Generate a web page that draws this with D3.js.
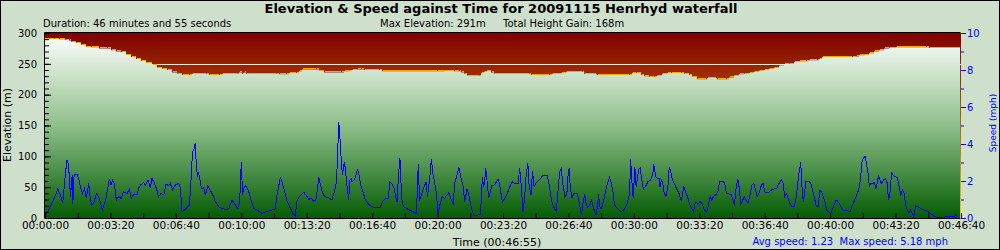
<!DOCTYPE html>
<html>
<head>
<meta charset="utf-8">
<script src="https://d3js.org/d3.v7.min.js"></script>
<style>
  body { margin: 0; background: #fff; }
  svg { display: block; font-family: "DejaVu Sans", Verdana, sans-serif; }
  .frame { fill: #cee0cc; stroke: #000; stroke-width: 1; }
  .speed { fill: none; stroke: #0000ff; stroke-width: 1; shape-rendering: crispEdges; }
  .edge { stroke: #ffa500; stroke-width: 1; shape-rendering: crispEdges; }
  .blue { fill: #0000ff; }
  .pre { white-space: pre; }
</style>
</head>
<body>
<svg id="chart" width="1000" height="250"></svg>
<script>
  // elevation profile (seconds, metres)
  var elevTimes = [0,15,31,46,64,76,83,98,113,128,
    144,168,193,205,220,235,251,266,281,296,
    312,330,345,361,376,391,407,422,443,452,
    495,504,535,544,590,596,605,611,617,709,
    718,740,749,770,779,789,831,841,856,908,
    917,932,941,956,969,978,1024,1033,1201,1223,
    1253,1269,1275,1284,1293,1330,1336,1345,1354,1366,
    1376,1483,1489,1544,1553,1580,1596,1645,1651,1687,
    1690,1788,1797,1810,1825,1834,1849,1865,1874,1889,
    1904,1917,1947,1956,1972,1981,1996,2024,2027,2054,
    2057,2085,2094,2109,2124,2140,2155,2170,2186,2201,
    2216,2232,2247,2262,2277,2293,2308,2329,2338,2363,
    2369,2378,2470,2482,2491,2507,2522,2537,2552,2568,
    2583,2604,2696,2705,2800];
  var elevValues = [290,291,291,290,289,288,286,284,281,278,
    277,275,275,272,270,269,265,261,258,255,
    252,248,244,242,240,236,234,232,232,234,
    234,232,232,234,234,236,234,236,234,234,
    233,233,235,235,238,241,241,239,236,236,
    238,239,240,241,241,240,240,238,238,239,
    238,238,236,234,231,231,235,237,239,236,
    234,234,232,232,234,235,237,237,234,233,
    232,232,235,235,232,230,229,229,231,234,
    235,235,235,234,232,229,225,225,227,227,
    225,225,228,231,233,234,235,237,239,240,
    242,244,247,249,250,253,254,254,256,256,
    258,261,261,262,264,265,267,270,272,275,
    276,277,277,276,276];

  // speed samples (seconds, mph)
  var speedTimes = [0,11,21,32,39,47,54,60,67,72,
    78,83,85,89,98,103,108,115,121,126,
    134,137,142,149,157,164,169,175,184,192,
    197,202,207,212,218,225,233,240,251,258,
    264,271,281,288,294,302,307,315,322,327,
    335,342,347,355,363,370,378,383,390,398,
    409,414,419,427,434,441,445,451,455,459,
    462,466,469,472,478,485,490,498,505,513,
    521,531,541,551,561,572,582,589,595,600,
    604,607,614,623,631,638,648,658,663,674,
    684,694,704,709,715,720,724,733,740,750,
    758,765,770,777,786,791,798,806,814,821,
    828,833,837,842,847,855,867,877,886,891,
    894,898,901,905,909,912,915,918,922,925,
    928,932,936,
    938,945,951,955,960,965,972,979,987,998,
    1013,1025,1033,1040,1049,1054,1061,1067,1072,1076,
    1081,1085,1089,1092,1097,1110,1125,1135,1138,1141,
    1145,1150,1155,1161,1165,1169,1173,1177,1181,1185,
    1189,1193,1197,1201,1207,1214,1222,1228,1235,1240,
    1244,1248,1252,1258,1265,1271,1278,1283,1290,1295,
    1301,1305,1311,1322,1331,1334,1337,1341,1344,1347,
    1351,1356,1362,1366,1373,1380,1385,1390,1398,1405,
    1413,1421,1428,1436,1446,1451,1456,1461,1466,1471,
    1476,1480,1486,1490,1495,1500,1507,1517,1522,1536,
    1543,1548,1556,1563,1568,1573,1578,1582,1589,1595,
    1599,1602,1606,1611,1617,1627,1633,1640,1645,1650,
    1654,1658,1665,1670,1675,1680,1684,1688,1692,1697,
    1701,1707,1714,1721,1726,1731,1736,1741,1752,1760,
    1770,1778,1785,1788,1790,1794,1798,1803,1807,1811,
    1815,1819,1823,1829,1835,1843,1851,1858,1861,
    1867,1872,1877,1880,1884,1888,1892,1898,1904,1908,
    1913,1918,1923,1930,1938,1945,1949,1953,1958,1964,
    1970,1976,1982,1986,1990,1996,2002,2006,2012,2016,
    2023,2028,2033,2038,2043,2050,2057,2062,2073,2078,
    2083,2091,2098,2103,2107,2113,2118,2121,2127,2132,
    2137,2143,2149,2155,2161,2167,2172,2177,2184,2190,
    2195,2201,2213,2220,2230,2237,2241,2247,2251,2256,
    2261,2266,2271,2277,2283,2290,2295,2300,2303,2307,
    2310,2314,2318,2322,2326,2335,2341,2346,2351,2357,
    2363,2369,2374,2379,2384,2389,2395,2402,2410,2418,
    2422,2428,2436,2444,2453,2461,2468,2475,2481,2487,
    2493,2498,2504,2507,2511,2516,2520,2524,2530,2535,
    2540,2544,2548,2552,2557,2563,2569,2575,2578,2582,
    2585,2588,2593,2600,2605,2610,2616,2621,2626,2631,
    2636,2641,2646,2651,2655,2662,2669,2677,2687,2695,
    2702,2710,2718,2726,2733,2744,2758,2774,2781,2784,
    2787];
  var speedValues = [0.05,0.43,0.79,1.24,1.57,1.24,0.79,1.96,3.14,2.86,
    1.15,2.32,0.74,2.32,2.36,2.14,1.69,1.33,1.60,1.06,
    1.87,1.24,0.70,0.79,1.33,1.15,0.88,0.43,0.88,1.60,
    2.11,1.78,2.05,1.87,0.97,1.15,1.06,1.42,1.33,1.57,
    1.06,1.28,1.24,1.69,1.82,1.91,1.78,2.05,1.64,2.14,
    1.87,1.51,1.15,1.33,1.24,1.82,1.75,1.87,1.51,1.78,
    1.87,1.60,0.34,0.43,0.56,0.70,1.60,3.59,3.68,4.04,
    3.05,2.23,2.50,2.23,1.60,1.64,1.24,1.75,1.51,1.24,
    0.88,0.61,0.52,0.47,0.49,0.97,0.70,0.52,0.85,3.01,
    1.24,1.60,1.75,1.42,0.88,0.52,0.43,0.31,0.25,0.34,
    0.38,0.43,0.49,1.24,1.78,2.23,1.96,1.42,0.92,0.52,
    0.25,0.11,0.92,1.15,1.32,1.39,1.24,1.01,1.06,0.92,
    0.97,1.60,2.23,1.78,1.42,1.15,1.10,0.97,1.51,1.96,
    3.23,5.18,4.49,3.32,2.32,2.68,3.01,2.68,1.87,1.51,
    0.97,2.05,2.11,
    1.96,2.05,2.32,2.65,2.32,1.78,1.42,0.97,0.79,0.61,
    0.56,0.58,0.92,1.03,1.06,1.96,1.82,1.60,1.15,0.85,
    2.41,3.23,1.60,0.79,0.61,0.47,0.34,0.25,1.42,2.90,
    0.92,1.24,1.51,1.78,1.96,1.15,1.69,2.32,3.19,2.50,
    2.14,1.69,1.28,0.20,0.70,1.15,1.06,1.24,1.37,1.06,
    0.92,0.70,1.87,2.23,2.74,2.23,1.69,0.88,1.57,1.28,
    0.74,0.43,0.16,0.16,0.20,1.15,2.23,1.69,1.96,2.68,
    2.05,1.10,1.42,1.78,1.78,1.96,2.11,1.78,0.85,1.06,
    1.33,1.69,1.96,1.87,1.87,2.68,1.69,0.34,1.06,2.41,
    2.95,1.69,1.24,2.54,1.69,1.87,2.00,2.18,2.31,2.29,
    1.60,0.97,0.56,0.34,1.42,2.50,2.68,1.96,1.15,1.24,
    2.32,2.68,1.60,1.10,1.33,1.33,0.79,0.16,0.85,1.30,
    0.79,0.56,0.70,0.97,0.67,0.34,0.16,0.52,1.28,0.52,
    0.52,0.88,1.51,1.96,2.20,1.87,1.42,0.70,0.47,0.34,
    0.45,0.70,1.15,1.96,3.19,1.96,1.06,2.77,1.69,2.14,
    2.65,2.72,2.23,1.57,1.69,1.96,2.05,2.41,2.90,
    2.23,2.14,2.14,1.69,2.05,1.96,1.42,1.15,1.69,2.74,
    2.50,2.05,1.87,1.60,1.33,0.92,1.33,1.69,1.42,1.15,
    0.79,0.52,0.34,0.70,0.85,0.74,0.88,0.85,0.61,0.43,
    0.31,0.70,1.15,0.97,1.15,1.24,1.42,1.96,1.96,1.87,
    1.33,1.30,1.28,0.97,0.67,1.69,2.11,1.78,0.74,0.92,
    1.15,0.97,0.79,1.24,1.78,1.87,1.51,1.15,1.42,1.78,
    1.87,1.39,1.39,1.51,1.57,1.57,1.78,1.96,2.05,1.87,
    1.15,1.33,1.10,0.79,0.61,0.61,0.97,1.69,2.23,2.68,
    3.01,1.69,0.85,1.42,1.96,2.00,1.87,1.51,1.15,0.70,
    0.61,1.51,1.39,1.15,0.88,0.43,0.34,0.25,0.61,0.97,
    0.92,0.79,0.49,0.38,0.38,0.34,0.70,0.97,1.24,1.51,
    2.14,3.14,3.28,3.32,2.95,2.41,1.69,1.87,1.87,1.91,
    1.60,1.87,2.32,2.05,1.87,2.05,2.14,1.87,0.97,1.24,
    1.78,2.50,2.29,2.23,2.18,1.78,1.24,1.51,1.33,0.70,
    0.43,0.29,0.43,0.25,0.07,0.65,0.58,0.52,0.43,0.38,
    0.31,0.20,0.11,0.04,0.02,0.04,0.07,0.07,0.07,0.20,
    0.07];

  var elevTicks = [0, 50, 100, 150, 200, 250, 300];
  var speedTicks = [0, 2, 4, 6, 8, 10];
  var timeMax = 2800;       // last labelled tick, 00:46:40
  var refElevation = 250;   // the pale horizontal rule

  var titleText = 'Elevation & Speed against Time for 20091115 Henrhyd waterfall';
  var durationText = 'Duration: 46 minutes and 55 seconds';
  var maxElevText = 'Max Elevation: 291m';
  var gainText = 'Total Height Gain: 168m';
  var timeTitle = 'Time (00:46:55)';
  var speedSummary = 'Avg speed: 1.23  Max speed: 5.18 mph';

  // plot box (window.top is read-only, so no plain "top" here)
  var plotLeft = 45, plotRight = 961, plotTop = 33, plotBottom = 218;

  var svg = d3.select('#chart');

  var x = d3.scaleLinear().domain([0, timeMax]).range([plotLeft, plotRight]);
  var yElev = d3.scaleLinear().domain([0, 300]).range([plotBottom, plotTop]);
  var ySpeed = d3.scaleLinear().domain([0, 10]).range([plotBottom, plotTop]);

  function hms(s) {
    var pad = function(n) { return (n < 10 ? '0' : '') + n; };
    return pad(Math.floor(s / 3600)) + ':' + pad(Math.floor(s / 60) % 60) + ':' + pad(s % 60);
  }

  // background and border of the whole picture
  svg.append('rect').attr('class', 'frame')
    .attr('x', 0.5).attr('y', 0.5).attr('width', 999).attr('height', 249);

  var defs = svg.append('defs');
  var red = defs.append('linearGradient').attr('id', 'redGrad')
    .attr('gradientUnits', 'userSpaceOnUse')
    .attr('x1', 0).attr('x2', 0).attr('y1', plotTop).attr('y2', plotBottom);
  red.append('stop').attr('offset', '0%').attr('stop-color', '#800000');
  red.append('stop').attr('offset', '100%').attr('stop-color', '#f8c800');
  var green = defs.append('linearGradient').attr('id', 'greenGrad')
    .attr('gradientUnits', 'userSpaceOnUse')
    .attr('x1', 0).attr('x2', 0).attr('y1', plotTop).attr('y2', plotBottom);
  green.append('stop').attr('offset', '0%').attr('stop-color', '#ffffff');
  green.append('stop').attr('offset', '50%').attr('stop-color', '#8fbf8a');
  green.append('stop').attr('offset', '100%').attr('stop-color', '#045c04');

  // sky
  svg.append('rect')
    .attr('x', plotLeft).attr('y', plotTop)
    .attr('width', plotRight - plotLeft).attr('height', plotBottom - plotTop)
    .attr('fill', 'url(#redGrad)');

  var refY = Math.round(yElev(refElevation)) + 0.5;
  svg.append('line')
    .attr('x1', plotLeft).attr('x2', plotRight)
    .attr('y1', refY).attr('y2', refY)
    .attr('stroke', '#f4e8dc');

  var elevData = elevTimes.map(function(t, i) { return [t, elevValues[i]]; });
  var speedData = speedTimes.map(function(t, i) { return [t, speedValues[i]]; });

  // ground
  svg.append('path')
    .datum(elevData)
    .attr('fill', 'url(#greenGrad)')
    .attr('d', d3.area()
      .curve(d3.curveStepAfter)
      .x(function(d) { return x(d[0]) - 1; })
      .y0(plotBottom)
      .y1(function(d) { return yElev(d[1]); }));

  // thin orange rim on the flat parts of the profile
  var segments = elevData.slice(0, -1).map(function(d, i) { return [d[0], elevData[i + 1][0], d[1]]; });
  svg.append('g').selectAll('line')
      .data(segments)
    .enter().append('line')
      .attr('class', 'edge')
      .attr('x1', function(d) { return x(d[0]); })
      .attr('x2', function(d) { return x(d[1]) - 1; })
      .attr('y1', function(d) { return Math.round(yElev(d[2])) - 0.5; })
      .attr('y2', function(d) { return Math.round(yElev(d[2])) - 0.5; });

  // speed trace
  svg.append('path')
    .datum(speedData)
    .attr('class', 'speed')
    .attr('d', d3.line()
      .x(function(d) { return x(d[0]); })
      .y(function(d) { return ySpeed(d[1]); }));

  // plot border
  svg.append('path')
    .attr('d', 'M' + (plotRight - 0.5) + ',' + (plotTop - 0.5) + 'H' + (plotLeft - 0.5) +
      'V' + (plotBottom + 0.5) + 'H' + (plotRight - 0.5))
    .attr('fill', 'none').attr('stroke', '#000');

  function styleAxis(g, colour) {
    g.attr('font-family', '"DejaVu Sans", Verdana, sans-serif')
      .attr('font-size', 10)
      .attr('color', colour);
    g.select('.domain').remove();
  }

  // left axis: minor ticks then labelled ticks
  svg.append('g').attr('transform', 'translate(' + plotLeft + ',0)')
    .call(d3.axisLeft(yElev).tickValues(d3.range(0, 301, 10)).tickSize(-4).tickFormat(''))
    .call(styleAxis, '#000');
  svg.append('g').attr('transform', 'translate(' + plotLeft + ',0)')
    .call(d3.axisLeft(yElev).tickValues(elevTicks).tickSize(-6).tickPadding(8))
    .call(styleAxis, '#000');

  // bottom axis
  svg.append('g').attr('transform', 'translate(0,' + plotBottom + ')')
    .call(d3.axisBottom(x).tickValues(d3.range(0, timeMax + 1, 100)).tickSize(-5).tickPadding(4)
      .tickFormat(function(d) { return d % 200 ? '' : hms(d); }))
    .call(styleAxis, '#000')
    .attr('font-size', 10.5);

  // right axis
  svg.append('g').attr('transform', 'translate(' + plotRight + ',0)')
    .call(d3.axisRight(ySpeed).tickValues(d3.range(1, 10, 2)).tickSize(3).tickFormat(''))
    .call(styleAxis, '#0000ff');
  svg.append('g').attr('transform', 'translate(' + plotRight + ',0)')
    .call(d3.axisRight(ySpeed).tickValues(speedTicks).tickSize(5).tickPadding(1))
    .call(styleAxis, '#0000ff');

  // texts
  svg.append('text').attr('x', 501).attr('y', 13)
    .attr('text-anchor', 'middle').attr('font-size', 13).attr('font-weight', 'bold')
    .text(titleText);
  svg.append('text').attr('x', 43).attr('y', 27).attr('font-size', 10).text(durationText);
  svg.append('text').attr('x', 380).attr('y', 27).attr('font-size', 10).text(maxElevText);
  svg.append('text').attr('x', 503).attr('y', 27).attr('font-size', 10).text(gainText);

  svg.append('text')
    .attr('transform', 'translate(11,125) rotate(-90)')
    .attr('text-anchor', 'middle').attr('font-size', 11)
    .text('Elevation (m)');
  svg.append('text')
    .attr('class', 'blue')
    .attr('transform', 'translate(996,123) rotate(-90)')
    .attr('text-anchor', 'middle').attr('font-size', 9)
    .text('Speed (mph)');

  svg.append('text').attr('x', 497).attr('y', 246)
    .attr('text-anchor', 'middle').attr('font-size', 11)
    .text(timeTitle);
  svg.append('text').attr('class', 'blue pre').attr('x', 948).attr('y', 245)
    .attr('text-anchor', 'end').attr('font-size', 10)
    .text(speedSummary);
</script>
</body>
</html>
